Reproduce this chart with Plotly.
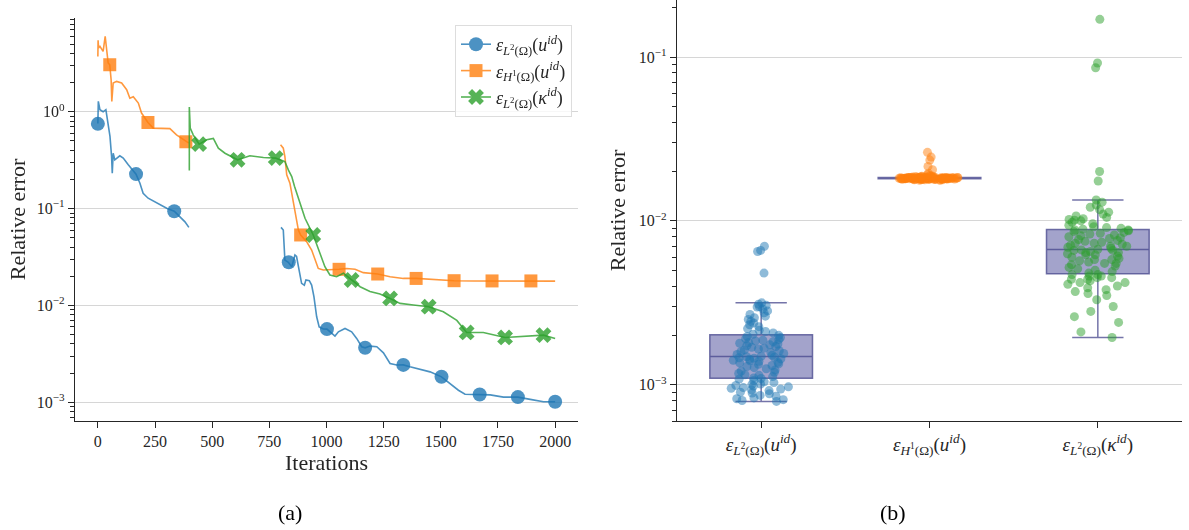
import math
import plotly.graph_objects as go

# ---------------- data: panel (a) convergence curves ----------------
blue_it = [0, 2, 9, 23, 35, 42, 53, 60, 63, 67, 74, 96, 111, 133, 167, 184, 198, 220, 257, 301, 334, 359, 381, 398,
           None,
           801, 811, 818, 833, 848, 862, 869, 881, 891, 903, 910, 925, 935, 945, 957, 968, 986, 1002, 1022, 1037,
           1052, 1081, 1110, 1132, 1154, 1169, 1190, 1220, 1249, 1278, 1307, 1336, 1365, 1409, 1453, 1503, 1540,
           1577, 1606, 1670, 1716, 1774, 1837, 1891, 1949, 2000]
blue_val = [0.757, 1.28, 1.05, 1.0, 1.05, 0.83, 0.556, 0.345, 0.232, 0.373, 0.319, 0.351, 0.332, 0.283, 0.227,
            0.183, 0.144, 0.128, 0.114, 0.101, 0.094, 0.083, 0.073, 0.064,
            None,
            0.064, 0.060, 0.0294, 0.0279, 0.0251, 0.0332, 0.032, 0.0232, 0.0169, 0.0162, 0.0183, 0.018, 0.0162,
            0.0123, 0.00763, 0.0060, 0.0057, 0.00569, 0.00513, 0.00482, 0.00534, 0.00578, 0.00534, 0.00456,
            0.00374, 0.00365, 0.0038, 0.00374, 0.00324, 0.00251, 0.00242, 0.00243, 0.00232, 0.00218, 0.00206,
            0.00183, 0.00156, 0.00133, 0.00121, 0.0012, 0.00119, 0.00113, 0.00113, 0.00107, 0.00101, 0.00101]

orange_it = [0, 1, 3, 9, 23, 32, 38, 45, 52, 58, 61, 67, 82, 104, 126, 140, 155, 177, 191, 219, 242, 286, 315,
             344, 366, 385, 398,
             None,
             799, 811, 818, 826, 840, 855, 867, 877, 887, 913, 935, 950, 964, 986, 1015, 1055, 1088, 1125, 1161,
             1224, 1278, 1336, 1392, 1482, 1558, 1640, 1724, 1810, 1894, 2000]
orange_val = [3.73, 5.47, 4.56, 4.74, 4.2, 6.0, 4.38, 3.19, 3.06, 2.14, 1.28, 1.98, 2.06, 1.98, 1.69, 1.38, 1.43,
              1.23, 0.97, 0.775, 0.678, 0.678, 0.67, 0.578, 0.534, 0.49, 0.475,
              None,
              0.456, 0.421, 0.345, 0.223, 0.183, 0.114, 0.0763, 0.060, 0.0534, 0.0456, 0.0373, 0.0294, 0.0241,
              0.0232, 0.0232, 0.0236, 0.0241, 0.0236, 0.0218, 0.0211, 0.0198, 0.019, 0.019, 0.0183, 0.018,
              0.0179, 0.0179, 0.0179, 0.0179, 0.0178]

green_it = [400, 400, 404, 417, 443, 476, 505, 527, 556, 611, 665, 724, 778, 800, 818, 833, 848, 860, 870, 884,
            906, 942, 971, 993, 1015, 1044, 1074, 1110, 1147, 1190, 1234, 1278, 1322, 1380, 1447, 1511, 1570,
            1613, 1686, 1781, 1862, 1949, 2000]
green_val = [0.247, 1.12, 0.678, 0.578, 0.463, 0.513, 0.53, 0.421, 0.373, 0.319, 0.351, 0.337, 0.332, 0.32,
             0.306, 0.251, 0.214, 0.17, 0.144, 0.114, 0.0794, 0.0534, 0.0345, 0.0251, 0.0206, 0.0198, 0.0215,
             0.0183, 0.0156, 0.0139, 0.0131, 0.0118, 0.0105, 0.0101, 0.0097, 0.0086, 0.0070, 0.00526, 0.00525,
             0.00467, 0.00482, 0.00493, 0.00456]

blue_mk_it = [0, 167, 334, 835, 1002, 1169, 1336, 1503, 1670, 1837, 2000]
blue_mk_val = [0.75, 0.227, 0.094, 0.0279, 0.00569, 0.00365, 0.00243, 0.00183, 0.0012, 0.00113, 0.00101]
orange_mk_it = [52, 219, 385, 887, 1055, 1224, 1392, 1558, 1724, 1894]
orange_mk_val = [3.06, 0.775, 0.49, 0.0534, 0.0236, 0.0211, 0.019, 0.018, 0.0179, 0.0179]
green_mk_it = [443, 611, 778, 942, 1110, 1278, 1447, 1613, 1781, 1949]
green_mk_val = [0.463, 0.319, 0.332, 0.0534, 0.0183, 0.0118, 0.0097, 0.00526, 0.00467, 0.00493]

series_names = [
    "<i>ε</i><sub><i>L</i><sup>2</sup>(Ω)</sub>(<i>u<sup>id</sup></i>)",
    "<i>ε</i><sub><i>H</i><sup>1</sup>(Ω)</sub>(<i>u<sup>id</sup></i>)",
    "<i>ε</i><sub><i>L</i><sup>2</sup>(Ω)</sub>(<i>κ<sup>id</sup></i>)",
]

x_ticks = [0, 250, 500, 750, 1000, 1250, 1500, 1750, 2000]
y_ticks_a = [1e-3, 1e-2, 1e-1, 1e0]
y_ticktext_a = ["10<sup>−3</sup>", "10<sup>−2</sup>", "10<sup>−1</sup>", "10<sup>0</sup>"]
y_ticks_b = [1e-3, 1e-2, 1e-1]
y_ticktext_b = ["10<sup>−3</sup>", "10<sup>−2</sup>", "10<sup>−1</sup>"]

# ---------------- data: panel (b) final errors over runs ----------------
err_L2_u = [0.00079, 0.00080, 0.00081, 0.00082, 0.00083, 0.00085, 0.00086, 0.00088, 0.00089, 0.00090,
            0.00092, 0.00093, 0.00094, 0.00095, 0.00096, 0.00097, 0.00098, 0.00099, 0.00100, 0.00101,
            0.00103, 0.00104, 0.00106, 0.00108, 0.00109,
            0.00110, 0.00112, 0.00114, 0.00115, 0.00117, 0.00119, 0.00121, 0.00123, 0.00125, 0.00127,
            0.00129, 0.00131, 0.00133, 0.00134, 0.00136, 0.00137, 0.00139, 0.00140, 0.00141, 0.00143,
            0.00144, 0.00145, 0.00146, 0.00147, 0.00148,
            0.00149, 0.00151, 0.00153, 0.00155, 0.00157, 0.00159, 0.00161, 0.00163, 0.00165, 0.00167,
            0.00169, 0.00171, 0.00173, 0.00175, 0.00177, 0.00179, 0.00181, 0.00183, 0.00185, 0.00187,
            0.00189, 0.00191, 0.00194, 0.00197, 0.00200,
            0.00203, 0.00207, 0.00211, 0.00215, 0.00220, 0.00226, 0.00232, 0.00238, 0.00244, 0.00250,
            0.00256, 0.00262, 0.00268, 0.00275, 0.00282, 0.00290, 0.00298, 0.00300, 0.00305, 0.00310,
            0.00316, 0.0048, 0.0065, 0.0066, 0.0070]
err_H1_u = [0.0177, 0.0177, 0.0178, 0.0178, 0.0178, 0.0178, 0.0179, 0.0179, 0.0179, 0.0179,
            0.0179, 0.0179, 0.0180, 0.0180, 0.0180, 0.0180, 0.0180, 0.0180, 0.0180, 0.0180,
            0.0180, 0.0180, 0.0180, 0.0181, 0.0181, 0.0181, 0.0181, 0.0181, 0.0181, 0.0181,
            0.0181, 0.0181, 0.0181, 0.0181, 0.0181, 0.0181, 0.0182, 0.0182, 0.0182, 0.0182,
            0.0182, 0.0182, 0.0182, 0.0182, 0.0182, 0.0182, 0.0182, 0.0182, 0.0182, 0.0182,
            0.0182, 0.0182, 0.0182, 0.0182, 0.0182, 0.0182, 0.0182, 0.0183, 0.0183, 0.0183,
            0.0183, 0.0183, 0.0183, 0.0183, 0.0183, 0.0183, 0.0183, 0.0183, 0.0183, 0.0183,
            0.0183, 0.0183, 0.0183, 0.0184, 0.0184, 0.0184, 0.0184, 0.0184, 0.0184, 0.0184,
            0.0185, 0.0185, 0.0185, 0.0185, 0.0186, 0.0186, 0.0186, 0.0187, 0.0187, 0.0188,
            0.0189, 0.0191, 0.0195, 0.0205, 0.0215, 0.0235, 0.0245, 0.0262]
err_L2_k = [0.00194, 0.0021, 0.0024, 0.0026, 0.0028, 0.0030, 0.0033, 0.0035, 0.0036, 0.0037,
            0.0038, 0.0039, 0.0040, 0.0041, 0.0042, 0.0042, 0.0043, 0.0044, 0.0044, 0.0045,
            0.0045, 0.0046, 0.0046, 0.0047, 0.0047,
            0.0048, 0.0049, 0.0050, 0.0051, 0.0052, 0.0053, 0.0054, 0.0055, 0.0055, 0.0056,
            0.0057, 0.0058, 0.0058, 0.0059, 0.0060, 0.0061, 0.0062, 0.0062, 0.0063, 0.0064,
            0.0064, 0.0065, 0.0066, 0.0066, 0.00665,
            0.0067, 0.0068, 0.0069, 0.0070, 0.0070, 0.0071, 0.0072, 0.0073, 0.0073, 0.0074,
            0.0075, 0.0076, 0.0077, 0.0078, 0.0079, 0.0080, 0.0081, 0.0082, 0.0083, 0.0084,
            0.0085, 0.0086, 0.0087, 0.0088, 0.0088,
            0.0089, 0.0090, 0.0091, 0.0092, 0.0094, 0.0096, 0.0098, 0.0100, 0.0101, 0.0102,
            0.0103, 0.0105, 0.0107, 0.0110, 0.0113, 0.0117, 0.0121, 0.0125, 0.0130, 0.0134,
            0.0175, 0.0200, 0.086, 0.092, 0.17]
box_data = [err_L2_u, err_H1_u, err_L2_k]

# ---------------- styling ----------------
W, H = 1189, 530
FONT = "Liberation Serif, Times New Roman, serif"
TXT = "#262626"
AX = "#262626"
GRID = "#d6d6d6"
COLORS = ["#1f77b4", "#ff7f0e", "#2ca02c"]
PT_COLORS = ["rgba(31,119,180,0.5)", "rgba(255,127,14,0.5)", "rgba(44,160,44,0.5)"]
SYMBOLS = ["circle", "square", "x"]
MK_SIZE = [14, 13, 14]

fig = go.Figure()

lines = [(blue_it, blue_val), (orange_it, orange_val), (green_it, green_val)]
marks = [(blue_mk_it, blue_mk_val), (orange_mk_it, orange_mk_val), (green_mk_it, green_mk_val)]

for i in range(3):
    lx, ly = lines[i]
    fig.add_trace(go.Scatter(x=lx, y=ly, mode="lines", connectgaps=False,
                             line=dict(color=COLORS[i], width=1.6), opacity=0.8,
                             showlegend=False, hoverinfo="skip", xaxis="x", yaxis="y"))
    mx, my = marks[i]
    fig.add_trace(go.Scatter(x=mx, y=my, mode="markers",
                             marker=dict(color=COLORS[i], symbol=SYMBOLS[i], size=MK_SIZE[i],
                                         line=dict(width=0)),
                             opacity=0.8, showlegend=False, xaxis="x", yaxis="y"))
for i in range(3):
    fig.add_trace(go.Scatter(x=[None], y=[None], mode="lines+markers", name=series_names[i],
                             line=dict(color=COLORS[i], width=1.6),
                             marker=dict(color=COLORS[i], symbol=SYMBOLS[i], size=MK_SIZE[i],
                                         line=dict(width=0)),
                             opacity=0.8, showlegend=True, xaxis="x", yaxis="y"))

for i in range(3):
    fig.add_trace(go.Box(x=[series_names[i]] * len(box_data[i]), y=box_data[i],
                         xaxis="x2", yaxis="y2", boxpoints="all", jitter=0.6, pointpos=0,
                         width=0.61, whiskerwidth=0.5,
                         fillcolor="rgba(72,72,152,0.5)",
                         line=dict(color="rgba(70,70,140,0.75)", width=1.5),
                         marker=dict(color=PT_COLORS[i], size=9, line=dict(width=0)),
                         showlegend=False))

def minor_vals(lo_exp, hi_exp):
    return [m * 10.0 ** e for e in range(lo_exp, hi_exp + 1) for m in range(2, 10)]

common_tick = dict(ticks="outside", ticklen=6, tickwidth=1.25, tickcolor=AX,
                   showline=True, linecolor=AX, linewidth=1.25, zeroline=False)
tick_font = dict(family=FONT, size=16, color=TXT)

fig.update_layout(
    width=W, height=H, margin=dict(l=0, r=0, t=0, b=0),
    paper_bgcolor="white", plot_bgcolor="white",
    font=dict(family=FONT, color=TXT),
    boxmode="overlay",
    showlegend=True,
    legend=dict(x=572 / W, y=1 - 25 / H, xanchor="right", yanchor="top",
                bgcolor="rgba(255,255,255,0.8)", bordercolor="#dddddd", borderwidth=1,
                font=dict(family=FONT, size=18, color=TXT), tracegroupgap=0),
    xaxis=dict(domain=[75 / W, 578 / W], anchor="y", range=[-100, 2100],
               tickvals=x_ticks, showgrid=False, tickfont=tick_font,
               title=dict(text="Iterations", font=dict(family=FONT, size=22, color=TXT), standoff=4),
               **common_tick),
    yaxis=dict(domain=[1 - 421 / H, 1 - 18 / H], anchor="x", type="log",
               range=[math.log10(6.4e-4), math.log10(9.3)],
               tickvals=y_ticks_a, ticktext=y_ticktext_a, tickfont=tick_font,
               showgrid=True, gridcolor=GRID, gridwidth=1,
               minor=dict(ticks="outside", ticklen=3.5, tickwidth=1, tickcolor=AX,
                          tickvals=minor_vals(-4, 0), showgrid=False),
               title=dict(text="Relative error", font=dict(family=FONT, size=22, color=TXT), standoff=5),
               **common_tick),
    xaxis2=dict(domain=[677 / W, 1182 / W], anchor="y2", type="category",
                range=[-0.5, 2.5], showgrid=False,
                tickfont=dict(family=FONT, size=19, color=TXT), **common_tick),
    yaxis2=dict(domain=[1 - 421 / H, 1.0], anchor="x2", type="log",
                range=[math.log10(6.0e-4), math.log10(0.223)],
                tickvals=y_ticks_b, ticktext=y_ticktext_b, tickfont=tick_font,
                showgrid=True, gridcolor=GRID, gridwidth=1,
                minor=dict(ticks="outside", ticklen=3.5, tickwidth=1, tickcolor=AX,
                           tickvals=minor_vals(-4, -1), showgrid=False),
                title=dict(text="Relative error", font=dict(family=FONT, size=22, color=TXT), standoff=7),
                **common_tick),
    annotations=[
        dict(text="(a)", x=290 / W, y=1 - 512 / H, xref="paper", yref="paper", showarrow=False,
             xanchor="center", yanchor="middle", font=dict(family=FONT, size=22, color="black")),
        dict(text="(b)", x=893 / W, y=1 - 512 / H, xref="paper", yref="paper", showarrow=False,
             xanchor="center", yanchor="middle", font=dict(family=FONT, size=22, color="black")),
    ],
)

fig.write_html("out.html")
